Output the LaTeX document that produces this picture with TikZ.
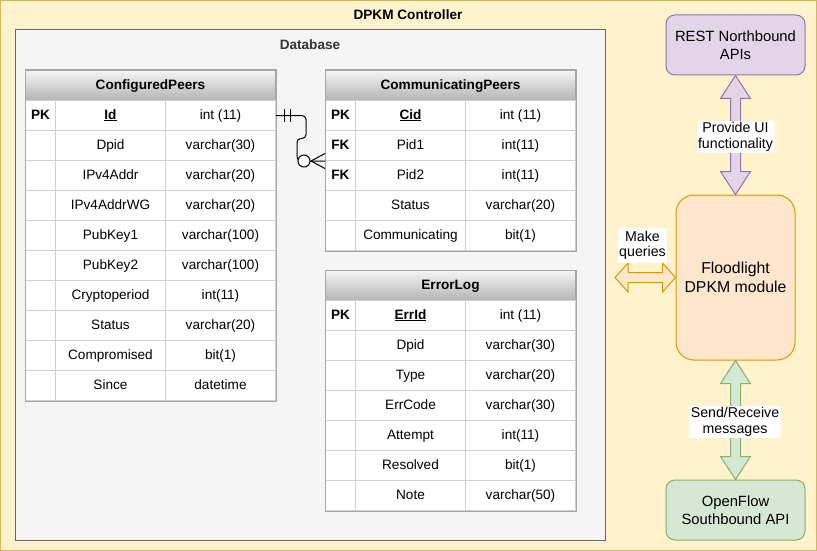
\documentclass[tikz,border=0pt]{standalone}
\usepackage{fontspec}
\setmainfont{Liberation Sans}
\usetikzlibrary{calc}
\definecolor{ybg}{HTML}{FFF2CC}
\definecolor{ybd}{HTML}{D6B656}
\definecolor{dbbg}{HTML}{F5F5F5}
\definecolor{dbbd}{HTML}{666666}
\definecolor{gridc}{HTML}{D0D0D0}
\definecolor{tblbd}{HTML}{A6A6A6}
\definecolor{hdtop}{HTML}{F5F5F5}
\definecolor{hdbot}{HTML}{B3B3B3}
\definecolor{pbg}{HTML}{E1D5E7}
\definecolor{pbd}{HTML}{9673A6}
\definecolor{obg}{HTML}{FFE6CC}
\definecolor{obd}{HTML}{D79B00}
\definecolor{gbg}{HTML}{D5E8D4}
\definecolor{gbd}{HTML}{82B366}
\definecolor{txtd}{HTML}{333333}
\newcommand{\errow}[6]{%
  \node[cellbox, minimum width=30] (#1k) at (#2,#3) {\textbf{#4}};
  \node[cellbox, minimum width=110] (#1n) at ({#2+30},#3) {#5};
  \node[cellbox, minimum width=110] (#1t) at ({#2+140},#3) {#6};
}
\tikzset{
  cellbox/.style={draw=gridc, fill=white, line width=1pt, minimum height=30, inner sep=0pt,
    text height=10pt, text depth=3pt,
    anchor=north west, font=\fontsize{13.6}{15}\selectfont},
  hdrbox/.style={draw=tblbd, line width=1pt, top color=hdtop, bottom color=hdbot,
    minimum width=250, minimum height=30, inner sep=0pt, anchor=north west,
    text height=10pt, text depth=3pt,
    font=\bfseries\fontsize{13.6}{15}\selectfont},
  rbox/.style={line width=1pt, align=center, inner sep=0pt, font=\fontsize{14.8}{17.5}\selectfont},
  lbl/.style={fill=white, align=center, inner sep=1.5pt, font=\fontsize{14.2}{15.5}\selectfont},
}
\begin{document}
\begin{tikzpicture}[x=1pt, y=-1pt, line width=1pt]
\useasboundingbox (0,0) rectangle (817,551);
% outer container
\draw[fill=ybg, draw=ybd] (0.5,0.5) rectangle (816.5,550.5);
\node[font=\bfseries\fontsize{13.6}{15}\selectfont] (title) at (408,15) {DPKM Controller};
% database container
\draw[fill=dbbg, draw=dbbd] (15,30) rectangle (605,540.5);
\node[font=\bfseries\fontsize{13.6}{15}\selectfont, text=txtd] (dbtitle) at (310,45) {Database};

% ConfiguredPeers
\node[hdrbox] (cph) at (25,70) {ConfiguredPeers};
\node[cellbox, minimum width=30] (cp0k) at (25,100) {\textbf{PK}};
\node[cellbox, minimum width=110] (cp0n) at (55,100) {\textbf{\underline{Id}}};
\node[cellbox, minimum width=110] (cp0t) at (165,100) {int (11)};
\errow{cp1}{25}{130}{}{Dpid}{varchar(30)}
\errow{cp2}{25}{160}{}{IPv4Addr}{varchar(20)}
\errow{cp3}{25}{190}{}{IPv4AddrWG}{varchar(20)}
\errow{cp4}{25}{220}{}{PubKey1}{varchar(100)}
\errow{cp5}{25}{250}{}{PubKey2}{varchar(100)}
\errow{cp6}{25}{280}{}{Cryptoperiod}{int(11)}
\errow{cp7}{25}{310}{}{Status}{varchar(20)}
\errow{cp8}{25}{340}{}{Compromised}{bit(1)}
\errow{cp9}{25}{370}{}{Since}{datetime}
\draw[tblbd] (cph.north west) rectangle (cp9t.south east);

% CommunicatingPeers
\node[hdrbox] (cmh) at (325,70) {CommunicatingPeers};
\node[cellbox, minimum width=30] (cm0k) at (325,100) {\textbf{PK}};
\node[cellbox, minimum width=110] (cm0n) at (355,100) {\textbf{\underline{Cid}}};
\node[cellbox, minimum width=110] (cm0t) at (465,100) {int (11)};
\errow{cm1}{325}{130}{FK}{Pid1}{int(11)}
\errow{cm2}{325}{160}{FK}{Pid2}{int(11)}
\errow{cm3}{325}{190}{}{Status}{varchar(20)}
\errow{cm4}{325}{220}{}{Communicating}{bit(1)}
\draw[tblbd] (cmh.north west) rectangle (cm4t.south east);

% ErrorLog
\node[hdrbox] (elh) at (325,270) {ErrorLog};
\node[cellbox, minimum width=30] (el0k) at (325,300) {\textbf{PK}};
\node[cellbox, minimum width=110] (el0n) at (355,300) {\textbf{\underline{ErrId}}};
\node[cellbox, minimum width=110] (el0t) at (465,300) {int (11)};
\errow{el1}{325}{330}{}{Dpid}{varchar(30)}
\errow{el2}{325}{360}{}{Type}{varchar(20)}
\errow{el3}{325}{390}{}{ErrCode}{varchar(30)}
\errow{el4}{325}{420}{}{Attempt}{int(11)}
\errow{el5}{325}{450}{}{Resolved}{bit(1)}
\errow{el6}{325}{480}{}{Note}{varchar(50)}
\draw[tblbd] (elh.north west) rectangle (el6t.south east);

% ER relation connector
\draw[rounded corners=4] (cp0t.east) -- ++(30,0) -- ++(0,23) -- ++(-9,0) |- (cm1k.south west);
\draw ($(cp0t.east)+(8,-6.5)$) -- ++(0,13);
\draw ($(cp0t.east)+(14,-6.5)$) -- ++(0,13);
\draw ($(cm1k.south west)+(-14,0)$) -- ($(cm1k.south west)+(0,-7.5)$);
\draw ($(cm1k.south west)+(-14,0)$) -- ($(cm1k.south west)+(0,7.5)$);
\draw[fill=white] ($(cm1k.south west)+(-21,0)$) circle (6);

% right-hand modules
\node[rbox, fill=pbg, draw=pbd, rounded corners=9, minimum width=139, minimum height=60] (rest) at (735.5,45) {REST Northbound\\APIs};
\node[rbox, fill=obg, draw=obd, rounded corners=18, minimum width=119, minimum height=165,
  font=\fontsize{15.8}{19}\selectfont] (fl) at (735.5,277.5) {Floodlight\\DPKM module};
\node[rbox, fill=gbg, draw=gbd, rounded corners=9, minimum width=139, minimum height=60] (of) at (735.5,510) {OpenFlow\\Southbound API};

% block double arrows
\draw[draw=pbd, fill=pbg, line join=miter] (rest.south) -- ++(15,23) -- ++(-10,0) -- ($(fl.north)+(5,-23)$) -- ++(10,0) -- (fl.north) -- ++(-15,-23) -- ++(10,0) -- ($(rest.south)+(-5,23)$) -- ++(-10,0) -- cycle;
\draw[draw=gbd, fill=gbg, line join=miter] (fl.south) -- ++(15,23) -- ++(-10,0) -- ($(of.north)+(5,-23)$) -- ++(10,0) -- (of.north) -- ++(-15,-23) -- ++(10,0) -- ($(fl.south)+(-5,23)$) -- ++(-10,0) -- cycle;
\coordinate (mqtip) at (615,277.5);
\draw[draw=obd, fill=obg, line join=miter] (mqtip) -- ++(13,-14.5) -- ++(0,9.5) -- ($(fl.west)+(-13,-5)$) -- ++(0,-9.5) -- (fl.west) -- ++(-13,14.5) -- ++(0,-9.5) -- ($(mqtip)+(13,5)$) -- ++(0,9.5) -- cycle;

% labels
\node[lbl] (lblui) at (735.5,137) {Provide UI\\functionality};
\node[lbl] (lblsr) at (735,422) {Send/Receive\\messages};
\node[lbl, inner ysep=3pt] (lblmq) at (642.5,245.5) {Make\\queries};
\end{tikzpicture}
\end{document}
